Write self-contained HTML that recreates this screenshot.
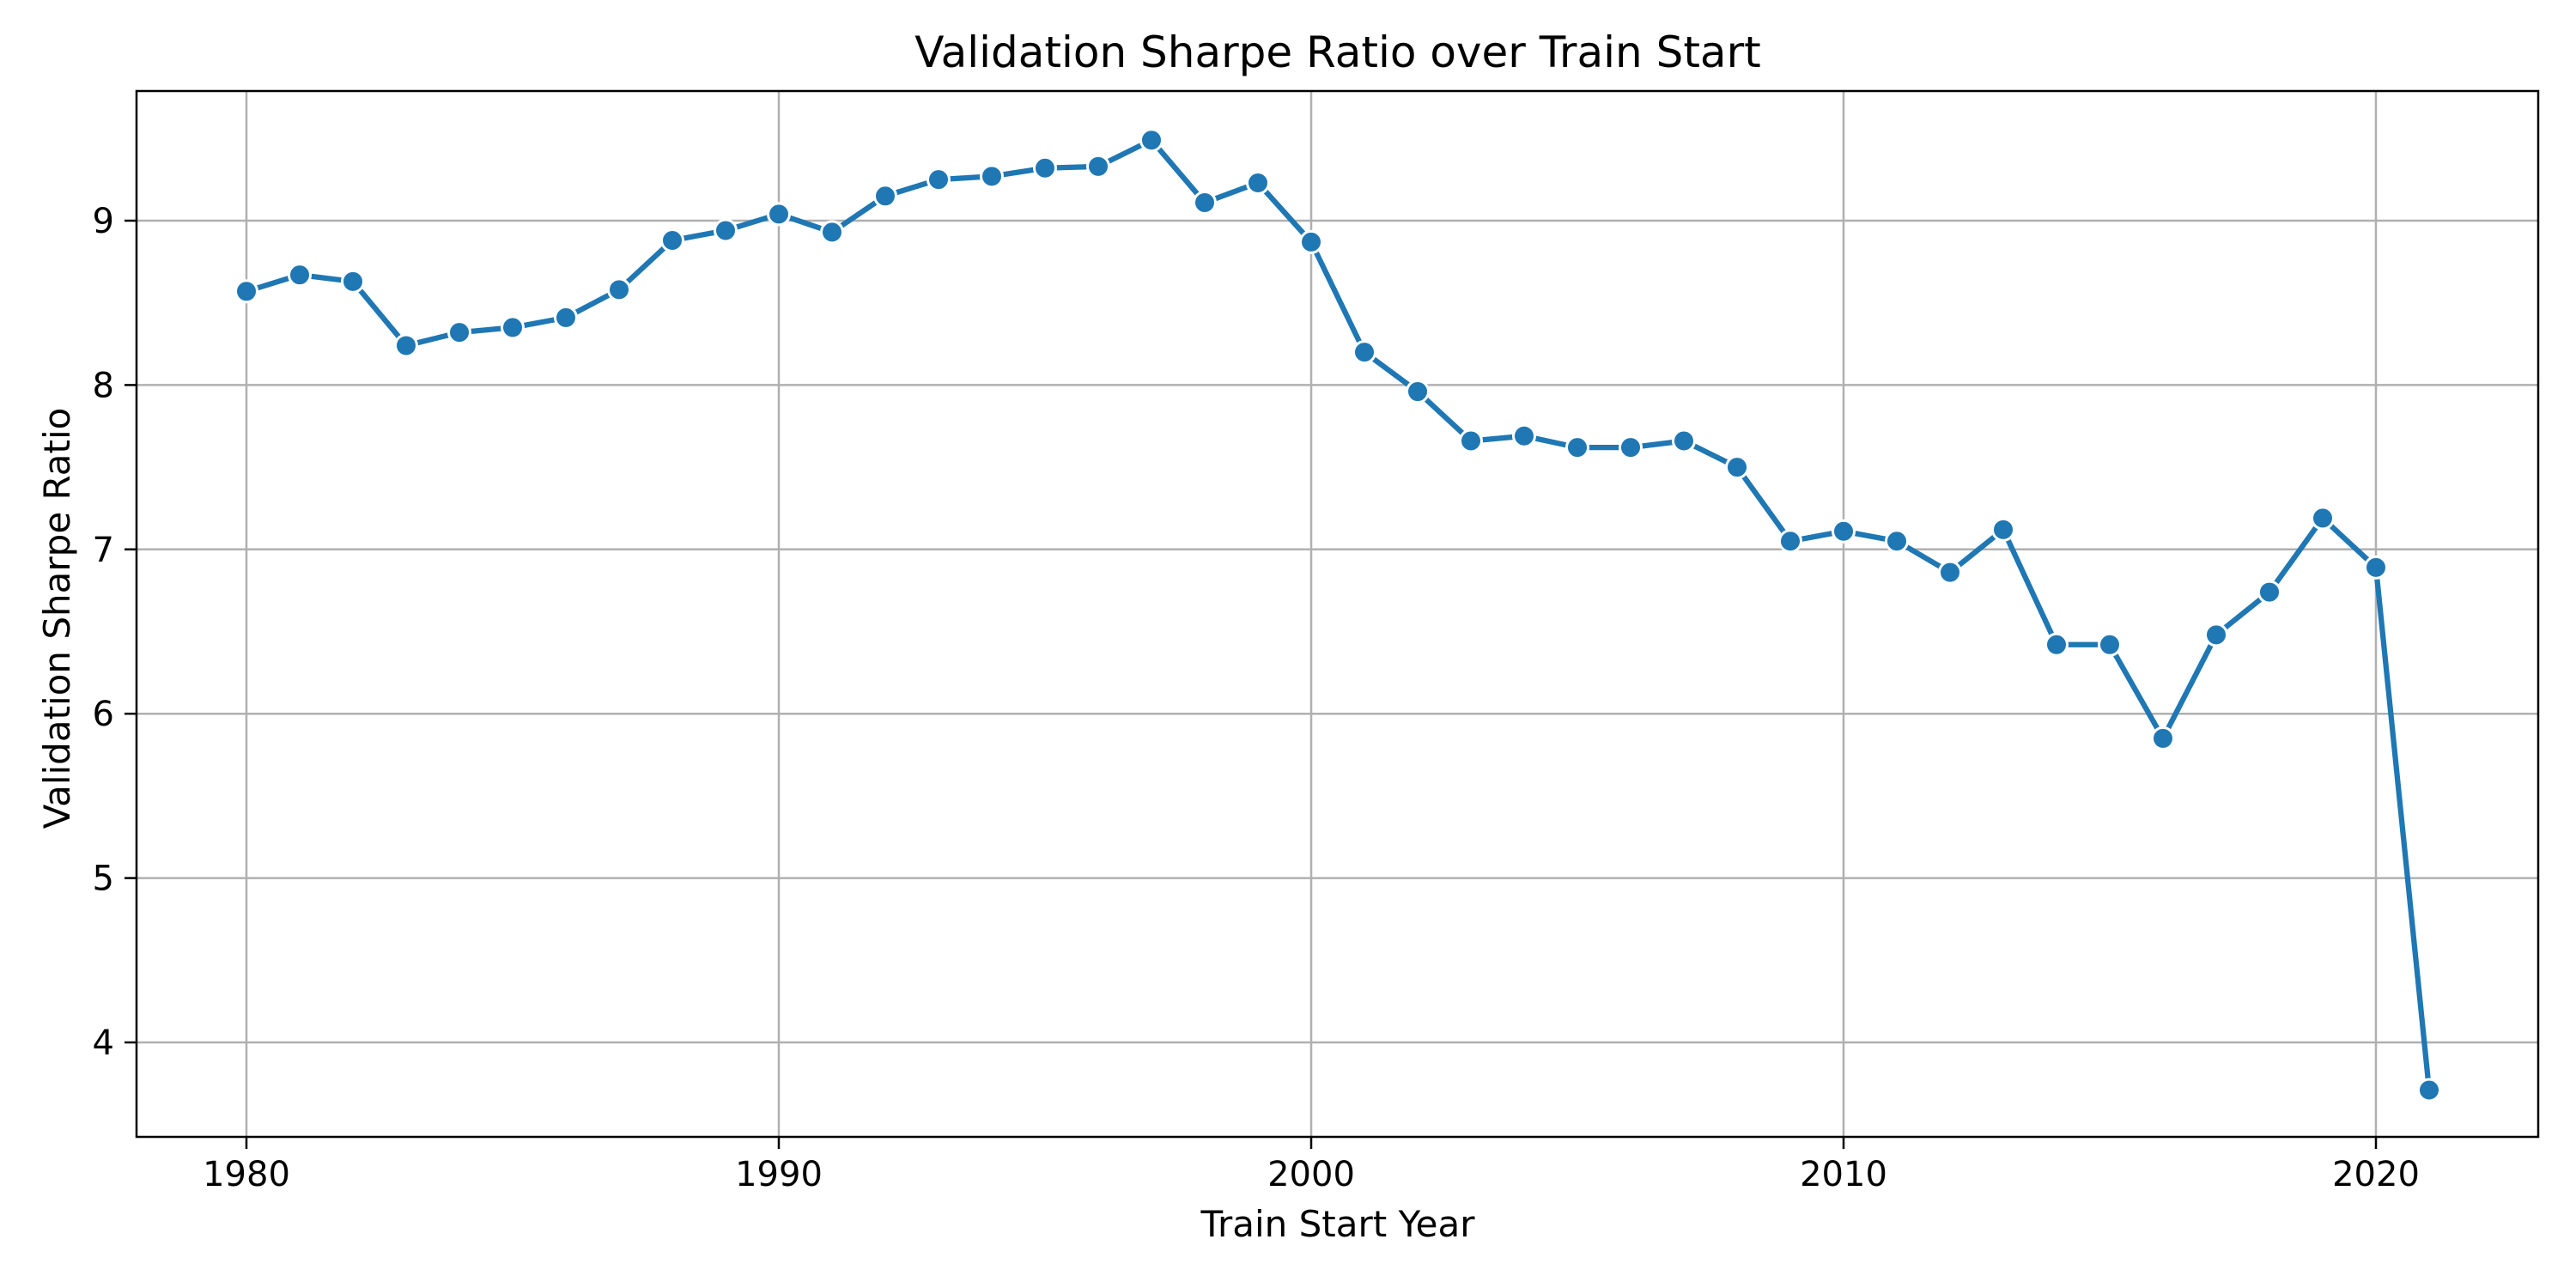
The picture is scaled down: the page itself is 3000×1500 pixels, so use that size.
<!DOCTYPE html>
<html><head><meta charset="utf-8"><style>
html,body{margin:0;padding:0;background:#fff;}
svg{display:block;font-family:"DejaVu Sans","Liberation Sans",sans-serif;}
</style></head><body>
<svg id="chart" width="3000" height="1500" viewBox="0 0 3000 1500">
<rect width="3000" height="1500" fill="#fff"/>
<text x="1558" y="78" font-size="50" text-anchor="middle">Validation Sharpe Ratio over Train Start</text>
<text x="1558" y="1440" font-size="42" text-anchor="middle">Train Start Year</text>
<text x="0" y="0" font-size="42" text-anchor="middle" transform="translate(81,720) rotate(-90)">Validation Sharpe Ratio</text>
<g id="grid"></g><g id="ticks"></g><g id="series"></g>
<rect x="159" y="106" width="2797" height="1218" fill="none" stroke="#000" stroke-width="2.5"/>
</svg>
<script>
const years=[1980,1981,1982,1983,1984,1985,1986,1987,1988,1989,1990,1991,1992,1993,1994,1995,1996,1997,1998,1999,2000,2001,2002,2003,2004,2005,2006,2007,2008,2009,2010,2011,2012,2013,2014,2015,2016,2017,2018,2019,2020,2021];
const sharpe=[8.57,8.67,8.63,8.24,8.32,8.35,8.41,8.58,8.88,8.94,9.04,8.93,9.15,9.25,9.27,9.32,9.33,9.49,9.11,9.23,8.87,8.20,7.96,7.66,7.69,7.62,7.62,7.66,7.50,7.05,7.11,7.05,6.86,7.12,6.42,6.42,5.85,6.48,6.74,7.19,6.89,3.71];
const xTicks=[1980,1990,2000,2010,2020];
const yTicks=[4,5,6,7,8,9];
const NS='http://www.w3.org/2000/svg';
function xs(v){return 287+(v-1980)*(2767-287)/40;}
function ys(v){return 257+(9-v)*(1214-257)/5;}
function mk(tag,attrs,parent){const e=document.createElementNS(NS,tag);for(const k in attrs)e.setAttribute(k,attrs[k]);parent.appendChild(e);return e;}
const grid=document.getElementById('grid'),ticks=document.getElementById('ticks'),series=document.getElementById('series');
xTicks.forEach(t=>{
 const x=xs(t);
 const g=mk('line',{x1:x,x2:x,y1:106,y2:1324,stroke:'#b0b0b0','stroke-width':2.5},grid);
 
 
 const tk=mk('line',{x1:x,x2:x,y1:1324,y2:1338,stroke:'#000','stroke-width':2.5},ticks);
 
 
 const lb=mk('text',{x:x,y:1381,'font-size':40,'text-anchor':'middle'},ticks);
 lb.textContent=t;
 
 
});
yTicks.forEach(t=>{
 const y=ys(t);
 const g=mk('line',{x1:159,x2:2956,y1:y,y2:y,stroke:'#b0b0b0','stroke-width':2.5},grid);
 
 
 const tk=mk('line',{x1:145,x2:159,y1:y,y2:y,stroke:'#000','stroke-width':2.5},ticks);
 
 
 const lb=mk('text',{x:133,y:y+14,'font-size':40,'text-anchor':'end'},ticks);
 lb.textContent=t;
 
 
});
const pts=years.map((y,i)=>xs(y)+','+ys(sharpe[i])).join(' ');
const line=mk('polyline',{points:pts,fill:'none',stroke:'#1f77b4','stroke-width':6.25,'stroke-linejoin':'round','stroke-linecap':'round'},series);


years.forEach((y,i)=>{
 const c=mk('circle',{cx:xs(y),cy:ys(sharpe[i]),r:12.5,fill:'#1f77b4',stroke:'#fff','stroke-width':3},series);
 
 
});
</script>
</body></html>
